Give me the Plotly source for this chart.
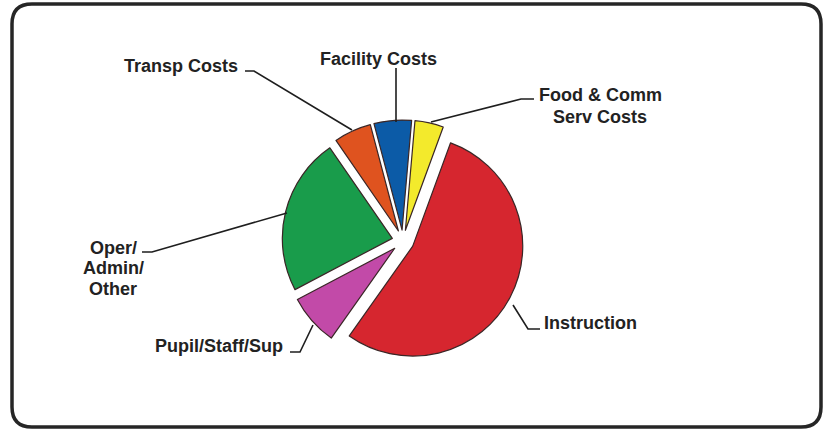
import plotly.graph_objects as go

W, H = 824, 430

# Spending categories, clockwise from 12 o'clock
categories = ["Food & Comm Serv Costs", "Instruction", "Pupil/Staff/Sup",
              "Oper/Admin/Other", "Transp Costs", "Facility Costs"]
shares = [4.2, 54.2, 7.5, 23.1, 5.5, 5.5]
colors = ["#f3ea2c", "#d6262f", "#c24aa8", "#199c4b", "#df531f", "#0c5ba7"]


def px(x):
    return x / W


def py(y):
    return 1 - y / H


fig = go.Figure()
fig.add_trace(go.Pie(
    labels=categories,
    values=shares,
    sort=False,
    direction="clockwise",
    rotation=5,
    pull=[0.1] * len(shares),
    marker=dict(colors=colors, line=dict(color="#3a2626", width=1.2)),
    textinfo="none",
    hoverinfo="label+percent",
    showlegend=False,
    domain=dict(x=[px(403 - 121), px(403 + 121)], y=[py(362), py(120)]),
))

font = dict(family="Liberation Sans, Arial, sans-serif", size=18,
            color="#222222", weight="bold")

# label text: (text, x, y, anchor)
labels = [
    ("Transp Costs", 240, 66, "right"),
    ("Facility Costs", 378, 59, "center"),
    ("Food & Comm", 600, 95, "center"),
    ("Serv Costs", 600, 117, "center"),
    ("Oper/", 113, 248, "center"),
    ("Admin/", 113, 268, "center"),
    ("Other", 113, 289, "center"),
    ("Pupil/Staff/Sup", 285, 346, "right"),
    ("Instruction", 542, 323, "left"),
]
for text, x, y, anchor in labels:
    fig.add_annotation(text=text, x=px(x), y=py(y), xref="paper", yref="paper",
                       xanchor=anchor, yanchor="middle", showarrow=False, font=font)

# elbow leader lines from each label to its slice
leaders = [
    [(245, 71), (254, 71), (352, 130)],
    [(396, 68), (396, 122)],
    [(534, 99), (521, 99), (431, 122)],
    [(142, 252), (152, 252), (287, 213)],
    [(290, 352), (300, 352), (313, 325)],
    [(540, 329), (528, 329), (513, 305)],
]
for pts in leaders:
    path = "M " + " L ".join(f"{px(x):.5f},{py(y):.5f}" for x, y in pts)
    fig.add_shape(type="path", path=path, xref="paper", yref="paper",
                  line=dict(color="#1e1e1e", width=1.6))

# rounded frame around the chart
x0, x1, y0, y1, r = 12, 821, 4, 427, 20
frame = (f"M {px(x0 + r)},{py(y0)} L {px(x1 - r)},{py(y0)} "
         f"Q {px(x1)},{py(y0)} {px(x1)},{py(y0 + r)} "
         f"L {px(x1)},{py(y1 - r)} Q {px(x1)},{py(y1)} {px(x1 - r)},{py(y1)} "
         f"L {px(x0 + r)},{py(y1)} Q {px(x0)},{py(y1)} {px(x0)},{py(y1 - r)} "
         f"L {px(x0)},{py(y0 + r)} Q {px(x0)},{py(y0)} {px(x0 + r)},{py(y0)} Z")
fig.add_shape(type="path", path=frame, xref="paper", yref="paper",
              line=dict(color="#262626", width=3.5))

fig.update_layout(
    width=W, height=H,
    margin=dict(l=0, r=0, t=0, b=0),
    paper_bgcolor="white",
    plot_bgcolor="white",
)

fig.write_html("out.html")
